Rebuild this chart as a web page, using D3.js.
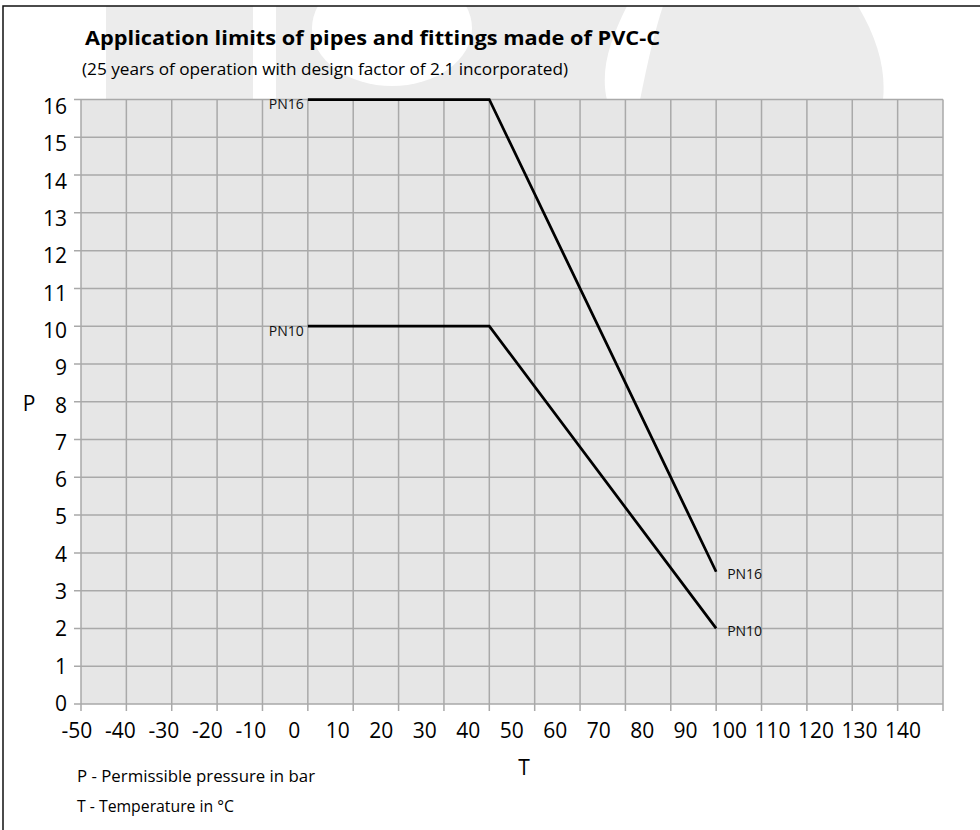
<!DOCTYPE html>
<html>
<head>
<meta charset="utf-8">
<script src="https://cdn.jsdelivr.net/npm/d3@7"></script>
<style>
  body { margin: 0; background: #fff; }
  svg { display: block; }
</style>
</head>
<body>
<script>
////////// datos //////////
var series = ["PN16", "PN10"];
var temps = [0, 40, 90];          // T on the grid
var pn16 = [16, 16, 3.5];         // P in bar
var pn10 = [10, 10, 2];
var xTicks = [-50, -40, -30, -20, -10, 0, 10, 20, 30, 40, 50, 60, 70, 80, 90, 100, 110, 120, 130, 140];
var xLabels = [-50, -40, -30, -20, -10, 0, 10, 20, 30, 40, 50, 60, 70, 80, 90, 100, 110, 120, 130, 140];
var yTicks = [0, 1, 2, 3, 4, 5, 6, 7, 8, 9, 10, 11, 12, 13, 14, 15, 16];
var title = "Application limits of pipes and fittings made of PVC-C";
var subtitle = "(25 years of operation with design factor of 2.1 incorporated)";
var notes = ["P - Permissible pressure in bar", "T - Temperature in °C"];

var width = 980, height = 830;
var gridColor = "#a9a9a9";
var font = "'Open Sans', 'Noto Sans', sans-serif";

var svg = d3.select("body").append("svg")
  .attr("width", width)
  .attr("height", height)
  .attr("font-family", font);

////// marca de agua de fondo //////
var wm = svg.append("g").attr("fill", "#ececec");
wm.append("rect").attr("x", 106).attr("y", 6).attr("width", 147).attr("height", 94);
wm.append("path").attr("d", "M276,6H470C520,6 540,40 540,100H276Z");
wm.append("ellipse").attr("cx", 392).attr("cy", 28).attr("rx", 80).attr("ry", 58).attr("fill", "#fff");
wm.append("path").attr("d", "M480,6H627C610,40 600,70 607,100H500C470,60 470,30 480,6Z");
wm.append("path").attr("d", "M663,6H858C878,40 886,70 883,100H640C648,60 655,30 663,6Z");

// borde
svg.append("rect")
  .attr("x", 3).attr("y", 6)
  .attr("width", 1000).attr("height", 900)
  .attr("fill", "none")
  .attr("stroke", "#111")
  .attr("stroke-width", 1.5);

////// escalas //////
var x = d3.scaleLinear().domain([-50, 140]).range([81, 943]);
var y = d3.scaleLinear().domain([0, 16]).range([704, 99.5]);
// the printed labels drift a little from the grid, like in the original
var xLab = d3.scaleLinear().domain([-50, 140]).range([77, 903]);
var yLab = d3.scaleLinear().domain([0, 16]).range([703.5, 106.5]);

// fondo del area
svg.append("rect")
  .attr("x", x(-50)).attr("y", y(16))
  .attr("width", x(140) - x(-50)).attr("height", y(0) - y(16))
  .attr("fill", "#e6e6e6");

// grilla
svg.append("g")
  .selectAll("line")
  .data(xTicks)
  .join("line")
  .attr("x1", d => x(d)).attr("x2", d => x(d))
  .attr("y1", y(16)).attr("y2", y(0) + 7)
  .attr("stroke", gridColor).attr("stroke-width", 1.5);

svg.append("g")
  .selectAll("line")
  .data(yTicks)
  .join("line")
  .attr("x1", x(-50) - 7).attr("x2", x(140))
  .attr("y1", d => y(d)).attr("y2", d => y(d))
  .attr("stroke", gridColor).attr("stroke-width", 1.5);

// etiquetas de ejes
svg.append("g")
  .attr("text-anchor", "middle")
  .attr("font-size", 21)
  .selectAll("text")
  .data(xLabels)
  .join("text")
  .attr("x", d => xLab(d))
  .attr("y", 738)
  .text(d => d);

svg.append("g")
  .attr("text-anchor", "end")
  .attr("font-size", 21)
  .selectAll("text")
  .data(yTicks)
  .join("text")
  .attr("x", 67)
  .attr("y", d => yLab(d))
  .attr("dy", "0.36em")
  .text(d => d);

svg.append("text").attr("x", 29).attr("y", 403).attr("dy", "0.36em")
  .attr("text-anchor", "middle").attr("font-size", 21).text("P");
svg.append("text").attr("x", 524).attr("y", 775)
  .attr("text-anchor", "middle").attr("font-size", 21).text("T");

////// lineas //////
var datos = [pn16, pn10].map((vals, i) => ({
  name: series[i],
  pts: temps.map((t, k) => ({ t: t, p: vals[k] }))
}));

var line = d3.line().x(d => x(d.t)).y(d => y(d.p));

svg.append("g")
  .selectAll("path")
  .data(datos)
  .join("path")
  .attr("d", d => line(d.pts))
  .attr("fill", "none")
  .attr("stroke", "#000")
  .attr("stroke-width", 2.75)
  .attr("stroke-linejoin", "miter");

// rotulos PN al inicio y al final
var rot = svg.append("g").attr("font-size", 14).attr("fill", "#111");
rot.selectAll("text.ini")
  .data(datos)
  .join("text")
  .attr("class", "ini")
  .attr("x", d => x(d.pts[0].t) - 4)
  .attr("y", d => y(d.pts[0].p) + 9.5)
  .attr("text-anchor", "end")
  .text(d => d.name);
rot.selectAll("text.fin")
  .data(datos)
  .join("text")
  .attr("class", "fin")
  .attr("x", d => x(d.pts[d.pts.length - 1].t) + 11)
  .attr("y", d => y(d.pts[d.pts.length - 1].p) + 7.5)
  .text(d => d.name);

////// titulos //////
svg.append("text")
  .attr("x", 85).attr("y", 45)
  .attr("font-size", 19).attr("font-weight", "bold")
  .attr("textLength", 575).attr("lengthAdjust", "spacingAndGlyphs")
  .text(title);
svg.append("text")
  .attr("x", 82).attr("y", 75)
  .attr("font-size", 16)
  .attr("textLength", 486).attr("lengthAdjust", "spacingAndGlyphs")
  .text(subtitle);

svg.append("g")
  .attr("font-size", 16)
  .selectAll("text")
  .data(notes)
  .join("text")
  .attr("x", 77)
  .attr("y", (d, i) => 782 + i * 30)
  .attr("textLength", (d, i) => i ? 157 : 238)
  .attr("lengthAdjust", "spacingAndGlyphs")
  .text(d => d);
</script>
</body>
</html>
